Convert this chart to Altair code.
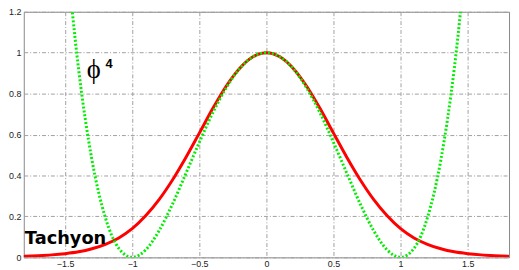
import altair as alt
import pandas as pd

# Tachyon potential (red, solid)
tach_x = [-1.9, -1.8, -1.7, -1.6, -1.5, -1.4, -1.3, -1.2, -1.1, -1.0,
          -0.9, -0.8, -0.7, -0.6, -0.5, -0.4, -0.3, -0.2, -0.1, 0.0,
          0.1, 0.2, 0.3, 0.4, 0.5, 0.6, 0.7, 0.8, 0.9, 1.0,
          1.1, 1.2, 1.3, 1.4, 1.5, 1.6, 1.7, 1.8, 1.9]
tach_y = [0.003, 0.005, 0.008, 0.012, 0.018, 0.027, 0.042, 0.064, 0.095, 0.140,
          0.203, 0.282, 0.378, 0.488, 0.607, 0.727, 0.836, 0.923, 0.980, 1.000,
          0.980, 0.923, 0.836, 0.727, 0.607, 0.488, 0.378, 0.282, 0.203, 0.140,
          0.095, 0.064, 0.042, 0.027, 0.018, 0.012, 0.008, 0.005, 0.003]

# phi^4 potential (green, dotted)
phi_x = [-1.5, -1.4, -1.3, -1.2, -1.1, -1.0, -0.9, -0.8, -0.7, -0.6,
         -0.5, -0.4, -0.3, -0.2, -0.1, 0.0, 0.1, 0.2, 0.3, 0.4,
         0.5, 0.6, 0.7, 0.8, 0.9, 1.0, 1.1, 1.2, 1.3, 1.4, 1.5]
phi_y = [1.562, 0.922, 0.476, 0.194, 0.044, 0.000, 0.036, 0.130, 0.260, 0.410,
         0.562, 0.706, 0.828, 0.922, 0.980, 1.000, 0.980, 0.922, 0.828, 0.706,
         0.562, 0.410, 0.260, 0.130, 0.036, 0.000, 0.044, 0.194, 0.476, 0.922, 1.562]

x_ticks = [-1.5, -1, -0.5, 0, 0.5, 1, 1.5]
y_ticks = [0, 0.2, 0.4, 0.6, 0.8, 1.0, 1.2]

df_t = pd.DataFrame({"x": tach_x, "y": tach_y})
df_p = pd.DataFrame({"x": phi_x, "y": phi_y})

xs = alt.Scale(domain=[-1.808, 1.808], nice=False, zero=False)
ys = alt.Scale(domain=[0, 1.2], nice=False, zero=False)

common_axis = dict(title=None, format="~g", grid=True, gridDash=[4, 2, 1, 2],
                   gridColor="#a0a0a0", gridWidth=1, ticks=False, domain=False,
                   labelFontSize=9, labelColor="#222222", labelFont="Liberation Sans")
xaxis = alt.Axis(values=x_ticks, labelPadding=2, **common_axis)
yaxis = alt.Axis(values=y_ticks, labelPadding=3, **common_axis)

red = alt.Chart(df_t).mark_line(color="#ff0000", strokeWidth=3, interpolate="monotone", clip=True).encode(
    x=alt.X("x:Q", scale=xs, axis=xaxis),
    y=alt.Y("y:Q", scale=ys, axis=yaxis),
)
green = alt.Chart(df_p).mark_line(color="#00ee00", strokeWidth=3, strokeDash=[2, 2], strokeCap="butt",
                                  interpolate="monotone", clip=True).encode(
    x=alt.X("x:Q", scale=xs),
    y=alt.Y("y:Q", scale=ys),
)

phi = alt.Chart().mark_text(text="ϕ", font="Liberation Serif", fontSize=27, align="center",
                            baseline="alphabetic", color="#000000").encode(
    x=alt.datum(-1.287), y=alt.datum(0.875))
four = alt.Chart().mark_text(text="4", font="Liberation Sans", fontWeight="bold", fontSize=13,
                             align="left", baseline="alphabetic", color="#000000").encode(
    x=alt.datum(-1.199), y=alt.datum(0.926))
tach = alt.Chart().mark_text(text="Tachyon", font="DejaVu Sans", fontWeight="bold", fontSize=18,
                             align="left", baseline="alphabetic", color="#000000").encode(
    x=alt.datum(-1.80), y=alt.datum(0.066))

chart = alt.layer(red, green, phi, four, tach).properties(
    width=492, height=249,
    autosize=alt.AutoSizeParams(type="none"),
    padding={"left": 16, "top": 2, "right": 2, "bottom": 11},
).configure_view(stroke="#888888", strokeWidth=1)

chart.save("out.html", embed_options={"renderer": "svg", "actions": False})
